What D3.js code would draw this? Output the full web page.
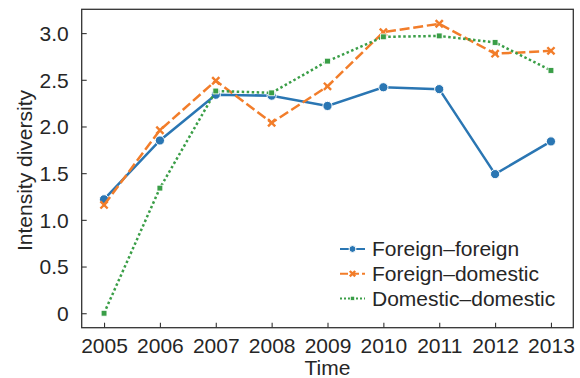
<!DOCTYPE html>
<html>
<head>
<meta charset="utf-8">
<script src="https://cdn.jsdelivr.net/npm/d3@7"></script>
<style>
  html, body { margin: 0; padding: 0; background: #fff; }
  svg { display: block; font-family: "Liberation Sans", Arial, Helvetica, sans-serif; }
</style>
</head>
<body>
<svg id="chart" width="580" height="378"></svg>
<script>
// Years on the x axis
const years = [2005, 2006, 2007, 2008, 2009, 2010, 2011, 2012, 2013];

// Intensity diversity per pairing type
const foreignForeign   = [1.22, 1.85, 2.34, 2.33, 2.22, 2.42, 2.40, 1.49, 1.84];
const foreignDomestic  = [1.16, 1.96, 2.49, 2.04, 2.43, 3.01, 3.10, 2.78, 2.81];
const domesticDomestic = [0.00, 1.34, 2.38, 2.36, 2.70, 2.96, 2.97, 2.90, 2.60];

const seriesNames = ["Foreign\u2013foreign", "Foreign\u2013domestic", "Domestic\u2013domestic"];
const yTicks = [0, 0.5, 1.0, 1.5, 2.0, 2.5, 3.0];
const yTickLabels = ["0", "0.5", "1.0", "1.5", "2.0", "2.5", "3.0"];

const seriesValues = [foreignForeign, foreignDomestic, domesticDomestic];
const colors = ["#2a76b3", "#f27d2a", "#3a9e47"];
const markers = ["circle", "cross", "square"];
const lw = 2.5;
const dashes = [null, [4 * lw, 1.5 * lw], [1 * lw, 1 * lw]];

const series = seriesNames.map((name, i) => ({
  name, color: colors[i], marker: markers[i], dash: dashes[i],
  points: years.map((yr, j) => ({ x: yr, y: seriesValues[i][j] }))
}));

const svg = d3.select("#chart");
const plotLeft = 81.7, plotRight = 573.3, plotTop = 9.3, plotBottom = 327.7;
const textColor = "#262626";
const fontSize = "21px";

const x = d3.scaleLinear().domain([2004.6, 2013.4]).range([plotLeft, plotRight]);
const y = d3.scaleLinear().domain([-0.155, 3.255]).range([plotBottom, plotTop]);

// Axes with inward ticks
const xAxis = d3.axisBottom(x).tickValues(years).tickFormat(d3.format("d"))
  .tickSizeInner(-5).tickSizeOuter(0).tickPadding(10);
const yAxis = d3.axisLeft(y).tickValues(yTicks).tickFormat((d, i) => yTickLabels[i])
  .tickSizeInner(-5).tickSizeOuter(0).tickPadding(13);

const gx = svg.append("g").attr("transform", `translate(0,${plotBottom})`).call(xAxis);
const gy = svg.append("g").attr("transform", `translate(${plotLeft},0)`).call(yAxis);
[gx, gy].forEach(g => {
  g.select(".domain").remove();
  g.selectAll(".tick line").attr("stroke", "#333").attr("stroke-width", 1.1);
  g.selectAll(".tick text").attr("fill", textColor).style("font-size", fontSize);
});
gx.selectAll(".tick text").attr("dy", "0.71em");
gy.selectAll(".tick text").attr("dy", "0.35em");

// Frame
svg.append("rect")
  .attr("x", plotLeft).attr("y", plotTop)
  .attr("width", plotRight - plotLeft).attr("height", plotBottom - plotTop)
  .attr("fill", "none").attr("stroke", "#333").attr("stroke-width", 1.3);

// Axis titles
svg.append("text")
  .attr("x", (plotLeft + plotRight) / 2).attr("y", 375)
  .attr("text-anchor", "middle").attr("fill", textColor)
  .style("font-size", fontSize).text("Time");
svg.append("text")
  .attr("transform", `translate(31.5,${(plotTop + plotBottom) / 2 + 2}) rotate(-90)`)
  .attr("text-anchor", "middle").attr("fill", textColor)
  .style("font-size", fontSize).text("Intensity diversity");

const line = d3.line().x(d => x(d.x)).y(d => y(d.y));

function drawMarker(g, type, cx, cy, color, s) {
  if (type === "circle") {
    g.append("circle").attr("cx", cx).attr("cy", cy).attr("r", s)
      .attr("fill", color).attr("stroke", "#fff").attr("stroke-width", 1);
  } else if (type === "square") {
    g.append("rect").attr("x", cx - s).attr("y", cy - s)
      .attr("width", 2 * s).attr("height", 2 * s)
      .attr("fill", color).attr("stroke", "#fff").attr("stroke-width", 0.8);
  } else {
    const p = `M${cx - s},${cy - s}L${cx + s},${cy + s}M${cx - s},${cy + s}L${cx + s},${cy - s}`;
    g.append("path").attr("d", p).attr("stroke", color).attr("stroke-width", 2.4)
      .attr("stroke-linecap", "butt").attr("fill", "none");
  }
}

const markerSize = { circle: 4.6, cross: 3.6, square: 2.9 };

series.forEach(s => {
  const g = svg.append("g");
  g.append("path").datum(s.points)
    .attr("d", line).attr("fill", "none")
    .attr("stroke", s.color).attr("stroke-width", lw)
    .attr("stroke-dasharray", s.dash ? s.dash.join(",") : null);
  s.points.forEach(p => drawMarker(g, s.marker, x(p.x), y(p.y), s.color, markerSize[s.marker]));
});

// Legend
const legendX = 340, legendY = 249, rowH = 24.7;
series.forEach((s, i) => {
  const g = svg.append("g").attr("transform", `translate(${legendX},${legendY + i * rowH})`);
  g.append("line").attr("x1", 0).attr("x2", 25).attr("y1", 0).attr("y2", 0)
    .attr("stroke", s.color).attr("stroke-width", 2)
    .attr("stroke-dasharray", s.dash ? s.dash.map(v => v * 0.8).join(",") : null);
  drawMarker(g, s.marker, 12.5, 0, s.color, markerSize[s.marker] * 0.75);
  g.append("text").attr("x", 32).attr("y", 0).attr("dy", "0.35em")
    .attr("fill", textColor).style("font-size", fontSize).text(s.name);
});
</script>
</body>
</html>
